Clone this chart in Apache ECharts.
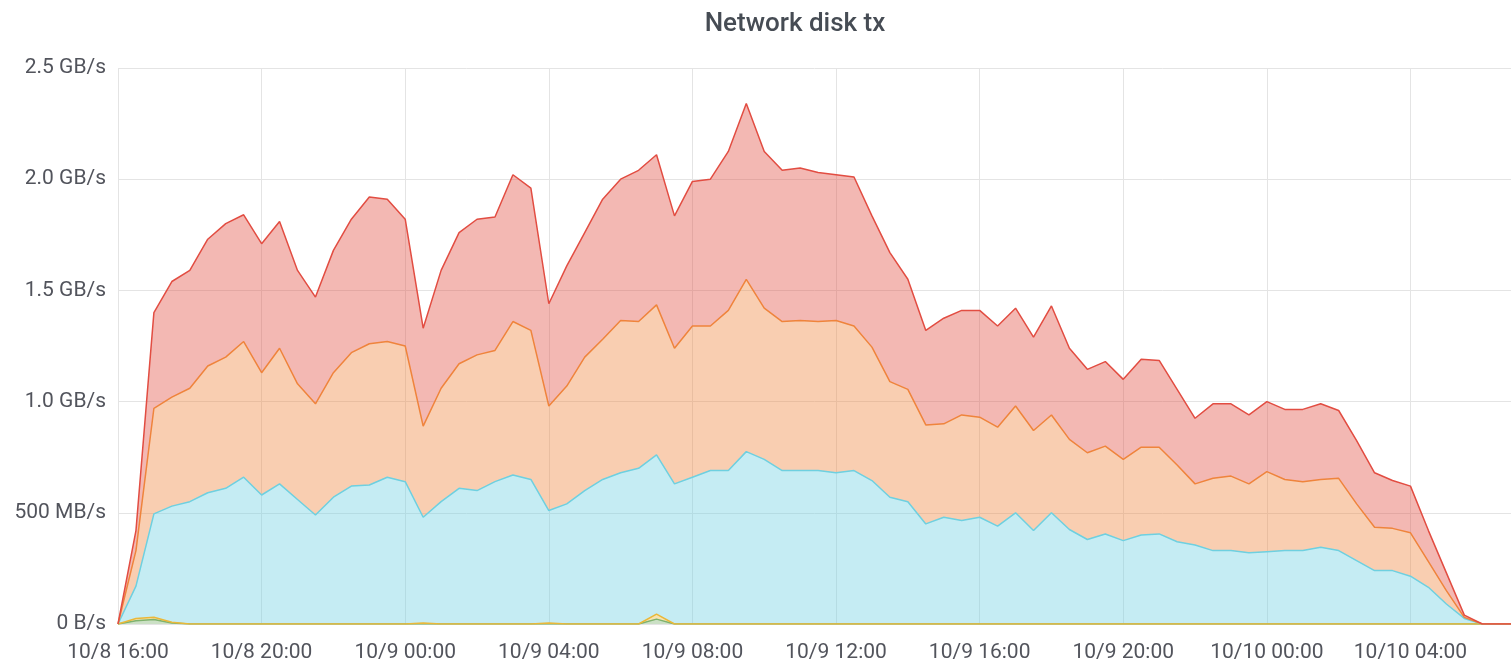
<!DOCTYPE html>
<html>
<head>
<meta charset="utf-8">
<title>Network disk tx</title>
<script src="https://cdn.jsdelivr.net/npm/echarts@6/dist/echarts.min.js"></script>
<style>
  html, body { margin: 0; padding: 0; background: #fff; }
  .chart { width: 1511px; height: 667px; }
</style>
</head>
<body>
<div class="chart"></div>
<script>
// time axis: 10/8 16:00, one sample every 30 min
var startTime = Date.UTC(2018, 9, 8, 16, 0);
var stepMs = 30 * 60 * 1000;
var hourMs = 3600 * 1000;

// series values in MB/s (stacked: green at the bottom, red on top)
var green = [0, 15, 20, 4, 0, 0, 0, 0, 0, 0,
  0, 0, 0, 0, 0, 0, 0, 0, 0, 0,
  0, 0, 0, 0, 0, 0, 0, 0, 0, 0,
  22, 0, 0, 0, 0, 0, 0, 0, 0, 0,
  0, 0, 0, 0, 0, 0, 0, 0, 0, 0,
  0, 0, 0, 0, 0, 0, 0, 0, 0, 0,
  0, 0, 0, 0, 0, 0, 0, 0, 0, 0,
  0, 0, 0, 0, 0, 0, 0, 0, 0];
var yellow = [0, 10, 10, 4, 0, 0, 0, 0, 0, 0,
  0, 0, 0, 0, 0, 0, 0, 5, 0, 0,
  0, 0, 0, 0, 4, 0, 0, 0, 0, 0,
  22, 0, 0, 0, 0, 0, 0, 0, 0, 0,
  0, 0, 0, 0, 0, 0, 0, 0, 0, 0,
  0, 0, 0, 0, 0, 0, 0, 0, 0, 0,
  0, 0, 0, 0, 0, 0, 0, 0, 0, 0,
  0, 0, 0, 0, 0, 0, 0, 0, 0];
var cyan = [0, 145, 465, 522, 550, 590, 610, 660, 580, 630,
  560, 490, 570, 620, 625, 660, 640, 475, 550, 610,
  600, 640, 670, 650, 506, 540, 600, 650, 680, 700,
  716, 630, 660, 690, 690, 775, 740, 690, 690, 690,
  680, 690, 645, 570, 550, 450, 480, 465, 480, 440,
  500, 420, 500, 425, 380, 405, 375, 400, 405, 370,
  355, 330, 330, 320, 325, 330, 330, 345, 330, 285,
  240, 240, 215, 165, 90, 25, 0, 0, 0];
var orange = [0, 160, 475, 490, 510, 570, 590, 610, 550, 610,
  520, 500, 560, 600, 635, 610, 610, 410, 510, 560,
  610, 590, 690, 670, 470, 530, 600, 630, 685, 660,
  675, 610, 680, 650, 720, 775, 680, 670, 675, 670,
  685, 650, 600, 520, 505, 445, 420, 475, 450, 445,
  480, 450, 440, 405, 390, 395, 365, 395, 390, 345,
  275, 325, 335, 310, 360, 320, 310, 305, 325, 255,
  195, 190, 195, 115, 60, 5, 0, 0, 0];
var red = [0, 90, 430, 520, 530, 570, 600, 570, 580, 570,
  510, 480, 550, 600, 660, 640, 570, 440, 530, 590,
  610, 600, 660, 640, 460, 540, 560, 630, 635, 680,
  675, 595, 650, 660, 715, 790, 705, 680, 685, 670,
  655, 670, 590, 580, 495, 425, 475, 470, 480, 455,
  440, 420, 490, 410, 375, 380, 360, 395, 390, 340,
  295, 335, 325, 310, 315, 315, 325, 340, 305, 285,
  245, 215, 210, 140, 80, 10, 0, 0, 0];

var seriesNames = ["disk-a", "disk-b", "disk-c", "disk-d", "disk-e"];
var seriesColors = ["#7EB26D", "#EAB839", "#6ED0E0", "#EF843C", "#E24D42"];

(function() {
  var myChart = echarts.init(document.querySelector(".chart"));

  function pad(n) {
    return n < 10 ? "0" + n : "" + n;
  }
  // pair every value with its timestamp
  function withTime(values) {
    return values.map(function(v, i) {
      return [startTime + i * stepMs, v];
    });
  }

  var allValues = [green, yellow, cyan, orange, red];
  var series = allValues.map(function(values, k) {
    return {
      name: seriesNames[k],
      type: 'line',
      stack: 'total',
      symbol: 'none',
      lineStyle: { color: seriesColors[k], width: 1.5 },
      itemStyle: { color: seriesColors[k] },
      areaStyle: { color: seriesColors[k], opacity: 0.4 },
      data: withTime(values)
    };
  });

  var option = {
    animation: false,
    useUTC: true,
    title: {
      text: "Network disk tx",
      left: 790,
      textAlign: 'center',
      top: 6,
      textStyle: {
        color: "#464c54",
        fontFamily: "Roboto",
        fontSize: 26,
        fontWeight: 500
      }
    },
    grid: {
      left: 118,
      right: 0,
      top: 68,
      bottom: 43
    },
    xAxis: {
      type: 'time',
      min: startTime,
      max: startTime + 38.8 * hourMs,
      minInterval: 4 * hourMs,
      maxInterval: 4 * hourMs,
      axisLine: { show: false },
      axisTick: { show: false },
      axisLabel: {
        color: "#52545c",
        fontFamily: "Roboto",
        fontSize: 21,
        margin: 18,
        showMinLabel: true,
        showMaxLabel: false,
        hideOverlap: false,
        formatter: function(v) {
          var d = new Date(v);
          return (d.getUTCMonth() + 1) + "/" + d.getUTCDate() + " " +
            pad(d.getUTCHours()) + ":" + pad(d.getUTCMinutes());
        }
      },
      splitLine: {
        show: true,
        lineStyle: { color: "#e4e4e4", width: 1 }
      }
    },
    yAxis: {
      type: 'value',
      min: 0,
      max: 2500,
      interval: 500,
      axisLine: { show: false },
      axisTick: { show: false },
      axisLabel: {
        color: "#52545c",
        fontFamily: "Roboto",
        fontSize: 21,
        margin: 12,
        formatter: function(v) {
          if (v === 0) return "0 B/s";
          if (v < 1000) return v + " MB/s";
          return (v / 1000).toFixed(1) + " GB/s";
        }
      },
      splitLine: {
        lineStyle: { color: "#e4e4e4", width: 1 }
      }
    },
    series: series
  };
  myChart.setOption(option);
  window.addEventListener("resize", function() {
    myChart.resize();
  });
})();
</script>
</body>
</html>
